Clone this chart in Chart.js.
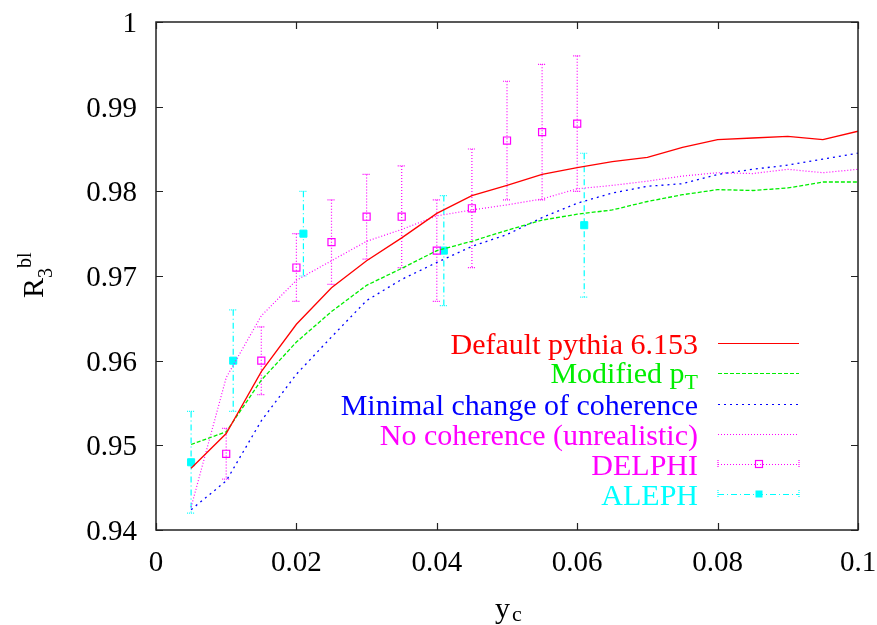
<!DOCTYPE html>
<html>
<head>
<meta charset="utf-8">
<script src="https://cdn.jsdelivr.net/npm/chart.js@4.4.1/dist/chart.umd.min.js"></script>
<style>
  html, body { margin: 0; padding: 0; background: #fff; overflow: hidden; }
  #wrap { width: 877px; height: 625px; }
</style>
</head>
<body>
<div id="wrap"><canvas id="grafico"></canvas></div>
<script>
const yc = [0.005, 0.01, 0.015, 0.02, 0.025, 0.03, 0.035, 0.04, 0.045, 0.05,
            0.055, 0.06, 0.065, 0.07, 0.075, 0.08, 0.085, 0.09, 0.095, 0.1];

const defaultPythia = [0.9473, 0.9514, 0.9587, 0.9643, 0.9686, 0.9718, 0.9745, 0.9774, 0.9795, 0.9807,
                       0.9820, 0.9828, 0.9835, 0.9840, 0.9852, 0.9861, 0.9863, 0.9865, 0.9861, 0.9871];
const modifiedPt = [0.9501, 0.9516, 0.9577, 0.9622, 0.9658, 0.9689, 0.9709, 0.9730, 0.9741, 0.9754,
                    0.9766, 0.9773, 0.9778, 0.9788, 0.9796, 0.9802, 0.9801, 0.9804, 0.9811, 0.9811];
const minimalChange = [0.9424, 0.9458, 0.9529, 0.9584, 0.9628, 0.9671, 0.9696, 0.9716, 0.9735, 0.9749,
                       0.9769, 0.9786, 0.9798, 0.9806, 0.9809, 0.9820, 0.9826, 0.9831, 0.9838, 0.9845];
const noCoherence = [0.9427, 0.9580, 0.9653, 0.9695, 0.9718, 0.9741, 0.9755, 0.9771, 0.9778, 0.9784,
                     0.9791, 0.9803, 0.9807, 0.9812, 0.9818, 0.9822, 0.9821, 0.9826, 0.9822, 0.9826];

const delphiX = [0.01, 0.015, 0.02, 0.025, 0.03, 0.035, 0.04, 0.045, 0.05, 0.055, 0.06];
const delphiY = [0.949, 0.960, 0.971, 0.974, 0.977, 0.977, 0.973, 0.978, 0.986, 0.987, 0.988];
const delphiErr = [0.003, 0.004, 0.004, 0.005, 0.005, 0.006, 0.006, 0.007, 0.007, 0.008, 0.008];

const alephX = [0.005, 0.011, 0.021, 0.041, 0.061];
const alephY = [0.948, 0.960, 0.975, 0.973, 0.976];
const alephErr = [0.006, 0.006, 0.005, 0.0065, 0.0085];

const xTicks = [0, 0.02, 0.04, 0.06, 0.08, 0.1];
const yTicks = [0.94, 0.95, 0.96, 0.97, 0.98, 0.99, 1];

const SERIF = '"Liberation Serif", serif';
const fmt = v => String(+v.toFixed(2));

const pts = (xs, ys) => xs.map((x, i) => ({ x: x, y: ys[i] }));

const datasets = [
  { label: 'Default pythia 6.153', data: pts(yc, defaultPythia), borderColor: '#ff0000', borderWidth: 1.3, pointRadius: 0, legendText: ['Default pythia 6.153'] },
  { label: 'Modified pT', data: pts(yc, modifiedPt), borderColor: '#00ee00', borderWidth: 1.3, borderDash: [4, 2], pointRadius: 0, legendText: ['Modified p', 'T'] },
  { label: 'Minimal change of coherence', data: pts(yc, minimalChange), borderColor: '#0000ff', borderWidth: 1.3, borderDash: [2, 4], pointRadius: 0, legendText: ['Minimal change of coherence'] },
  { label: 'No coherence (unrealistic)', data: pts(yc, noCoherence), borderColor: '#ff00ff', borderWidth: 1.2, borderDash: [1, 2], pointRadius: 0, legendText: ['No coherence (unrealistic)'] },
  { label: 'DELPHI', data: pts(delphiX, delphiY), err: delphiErr, showLine: false, borderColor: '#ff00ff', backgroundColor: 'rgba(0,0,0,0)',
    pointStyle: 'rect', pointRadius: 5, pointBorderWidth: 1.2, errDash: [1, 2], legendText: ['DELPHI'] },
  { label: 'ALEPH', data: pts(alephX, alephY), err: alephErr, showLine: false, borderColor: '#00ffff', backgroundColor: '#00ffff',
    pointStyle: 'rect', pointRadius: 5, pointBorderWidth: 1, errDash: [6, 3, 1, 3], legendText: ['ALEPH'] }
];

// vertical error bars with small caps, drawn under the markers
const errorBars = {
  id: 'errorBars',
  beforeDatasetsDraw(chart) {
    const ctx = chart.ctx;
    const xs = chart.scales.x, ys = chart.scales.y;
    chart.data.datasets.forEach(ds => {
      if (!ds.err) return;
      ctx.save();
      ctx.strokeStyle = ds.borderColor;
      ctx.lineWidth = 1.2;
      ds.data.forEach((p, i) => {
        const px = xs.getPixelForValue(p.x);
        const top = ys.getPixelForValue(p.y + ds.err[i]);
        const bot = ys.getPixelForValue(p.y - ds.err[i]);
        ctx.setLineDash(ds.errDash);
        ctx.beginPath();
        ctx.moveTo(px, top); ctx.lineTo(px, bot);
        ctx.stroke();
        ctx.setLineDash([1, 1]);
        ctx.beginPath();
        ctx.moveTo(px - 4, top); ctx.lineTo(px + 4, top);
        ctx.moveTo(px - 4, bot); ctx.lineTo(px + 4, bot);
        ctx.stroke();
      });
      ctx.restore();
    });
  }
};

// frame, inward ticks, tick labels, axis titles and the key
const decorations = {
  id: 'decorations',
  afterDraw(chart) {
    const ctx = chart.ctx;
    const a = chart.chartArea;
    const xs = chart.scales.x, ys = chart.scales.y;
    ctx.save();
    ctx.strokeStyle = '#222';
    ctx.lineWidth = 1.5;
    ctx.strokeRect(a.left, a.top, a.right - a.left, a.bottom - a.top);
    ctx.lineWidth = 1.2;
    ctx.beginPath();
    xTicks.forEach(v => {
      const px = Math.round(xs.getPixelForValue(v)) + 0.5;
      ctx.moveTo(px, a.bottom); ctx.lineTo(px, a.bottom - 7);
      ctx.moveTo(px, a.top); ctx.lineTo(px, a.top + 7);
    });
    yTicks.forEach(v => {
      const py = Math.round(ys.getPixelForValue(v)) + 0.5;
      ctx.moveTo(a.left, py); ctx.lineTo(a.left + 7, py);
      ctx.moveTo(a.right, py); ctx.lineTo(a.right - 7, py);
    });
    ctx.stroke();

    ctx.fillStyle = '#000';
    ctx.font = '29px ' + SERIF;
    ctx.textBaseline = 'alphabetic';
    ctx.textAlign = 'center';
    xTicks.forEach(v => ctx.fillText(fmt(v), xs.getPixelForValue(v), a.bottom + 41));
    ctx.textAlign = 'right';
    yTicks.forEach(v => ctx.fillText(fmt(v), a.left - 19, ys.getPixelForValue(v) + 10));

    // y title: R_3^bl, rotated
    ctx.translate(43, 298);
    ctx.rotate(-Math.PI / 2);
    ctx.textAlign = 'left';
    ctx.font = '30px ' + SERIF;
    ctx.fillText('R', 0, 0);
    let w = ctx.measureText('R').width;
    ctx.font = '20px ' + SERIF;
    ctx.fillText('3', w, 9);
    w += ctx.measureText('3').width;
    ctx.fillText('bl', w, -12);
    ctx.setTransform(1, 0, 0, 1, 0, 0);

    // x title: y_c
    ctx.font = '30px ' + SERIF;
    ctx.fillText('y', 495, 618);
    const wy = ctx.measureText('y').width;
    ctx.font = '22px ' + SERIF;
    ctx.fillText('c', 495 + wy + 2, 621);

    // key
    const rowY = [343, 373, 404, 434, 464, 494];
    const textRight = 698, x0 = 718, x1 = 799, xm = 759;
    chart.data.datasets.forEach((ds, i) => {
      const y = rowY[i];
      ctx.fillStyle = ds.borderColor;
      ctx.textAlign = 'right';
      const parts = ds.legendText;
      if (parts.length === 2) {
        ctx.font = '22px ' + SERIF;
        const ws = ctx.measureText(parts[1]).width;
        ctx.fillText(parts[1], textRight, y + 16);
        ctx.font = '30px ' + SERIF;
        ctx.fillText(parts[0], textRight - ws, y + 10);
      } else {
        ctx.font = '30px ' + SERIF;
        ctx.fillText(parts[0], textRight, y + 11);
      }
      ctx.strokeStyle = ds.borderColor;
      ctx.lineWidth = 1.2;
      ctx.setLineDash(ds.err ? ds.errDash : (ds.borderDash || []));
      ctx.beginPath();
      ctx.moveTo(x0, y + 0.5); ctx.lineTo(x1, y + 0.5);
      ctx.stroke();
      if (ds.err) {
        ctx.setLineDash([1, 1]);
        ctx.beginPath();
        ctx.moveTo(x0, y - 4); ctx.lineTo(x0, y + 4);
        ctx.moveTo(x1, y - 4); ctx.lineTo(x1, y + 4);
        ctx.stroke();
        ctx.setLineDash([]);
        if (ds.backgroundColor === '#00ffff') {
          ctx.fillStyle = ds.backgroundColor;
          ctx.fillRect(xm - 3.5, y - 3.5, 7, 7);
        } else {
          ctx.strokeRect(xm - 3.5, y - 3.5, 7, 7);
        }
      }
    });
    ctx.restore();
  }
};

new Chart(document.getElementById('grafico'), {
  type: 'line',
  data: { datasets: datasets },
  options: {
    responsive: true,
    maintainAspectRatio: false,
    animation: false,
    events: [],
    layout: { padding: { top: 22, right: 19, left: 0, bottom: 0 } },
    plugins: { legend: { display: false }, tooltip: { enabled: false } },
    scales: {
      x: {
        type: 'linear', min: 0, max: 0.1,
        afterFit: s => { s.height = 95; },
        grid: { display: false, drawTicks: false },
        border: { display: false },
        ticks: { display: false }
      },
      y: {
        type: 'linear', min: 0.94, max: 1,
        afterFit: s => { s.width = 156; },
        grid: { display: false, drawTicks: false },
        border: { display: false },
        ticks: { display: false }
      }
    }
  },
  plugins: [errorBars, decorations]
});
</script>
</body>
</html>
